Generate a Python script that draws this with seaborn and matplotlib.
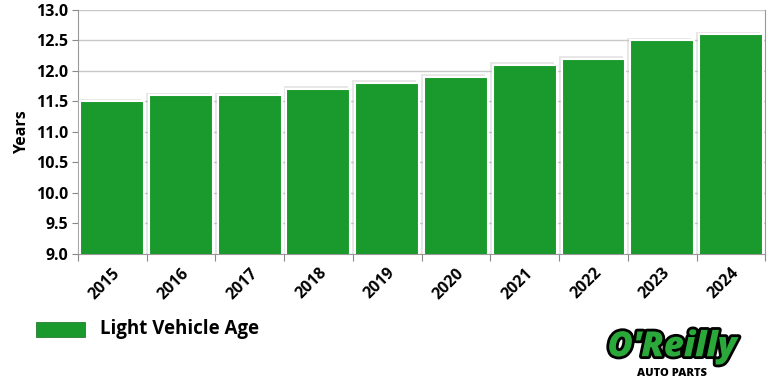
import matplotlib
matplotlib.use("Agg")
import matplotlib.pyplot as plt
import matplotlib.patheffects as pe
import seaborn as sns
import pandas as pd

years = ["2015", "2016", "2017", "2018", "2019", "2020", "2021", "2022", "2023", "2024"]
ages = [11.5, 11.6, 11.6, 11.7, 11.8, 11.9, 12.1, 12.2, 12.5, 12.6]
yticks = [9.0, 9.5, 10.0, 10.5, 11.0, 11.5, 12.0, 12.5, 13.0]
series_name = "Light Vehicle Age"

sns.set_style("white")
plt.rcParams['font.family'] = ['Open Sans', 'DejaVu Sans']
plt.rcParams['text.color'] = 'black'
plt.rcParams['xtick.labelcolor'] = 'black'
plt.rcParams['ytick.labelcolor'] = 'black'
plt.rcParams['axes.labelcolor'] = 'black'

GREEN = "#1a9a2c"
df = pd.DataFrame({"year": years, "age": ages})

fig = plt.figure(figsize=(7.7, 3.83), dpi=100)
ax = fig.add_axes([0.101, 0.337, 0.893, 0.637])
sns.barplot(data=df, x="year", y="age", color=GREEN, saturation=1, width=0.93,
            edgecolor="white", linewidth=1.5, ax=ax)
for p in ax.patches:
    p.set_path_effects([pe.SimplePatchShadow(offset=(-2, 2), shadow_rgbFace="#bbbbbb", alpha=0.35), pe.Normal()])
    p.set_zorder(3)

ax.set_ylim(9.0, 13.0)
ax.set_xlim(-0.5, len(years) - 0.5)
ax.set_yticks(yticks)
ax.set_yticklabels([f"{v:.1f}" for v in yticks], fontsize=11.5, fontweight="bold")
ax.yaxis.grid(True, color="#c8c8c8", linewidth=1)
ax.set_axisbelow(True)
ax.tick_params(axis="y", left=True, length=4, width=0.8, color="#888888", pad=3)

ax.set_xticks(range(len(years)))
ax.set_xticklabels(years, rotation=45, ha="right", rotation_mode="anchor",
                   fontsize=11.5, fontweight="bold")
ax.tick_params(axis="x", which="major", length=0, pad=8)
ax.set_xticks([i - 0.5 for i in range(len(years) + 1)], minor=True)
ax.tick_params(axis="x", which="minor", bottom=True, length=5, width=0.8, color="#888888")

ax.set_xlabel("")
ax.set_ylabel("Years", fontsize=11.5, fontweight="bold", labelpad=4)
ax.spines["top"].set_visible(False)
for s in ["left", "bottom", "right"]:
    ax.spines[s].set_color("#999999")
    ax.spines[s].set_linewidth(0.8)

# legend
fig.patches.append(plt.Rectangle((36 / 770, 1 - 337 / 383), 49 / 770, 15 / 383,
                                 transform=fig.transFigure, facecolor=GREEN,
                                 edgecolor="#0f6e1c", linewidth=0.5))
fig.text(100 / 770, 1 - 329 / 383, series_name, fontsize=13.5, fontweight="bold",
         va="center", ha="left")

# logo text
t = fig.text(672 / 770, 1 - 347 / 383, "O'Reilly", fontsize=25, fontweight="heavy",
             style="italic", color="#2aa83a", ha="center", va="center")
t.set_path_effects([pe.withStroke(linewidth=4, foreground="black")])
fig.text(672 / 770, 1 - 374 / 383, "AUTO PARTS", fontsize=8, fontweight="heavy",
         color="black", ha="center", va="center")

fig.savefig("out.png", dpi=100)
